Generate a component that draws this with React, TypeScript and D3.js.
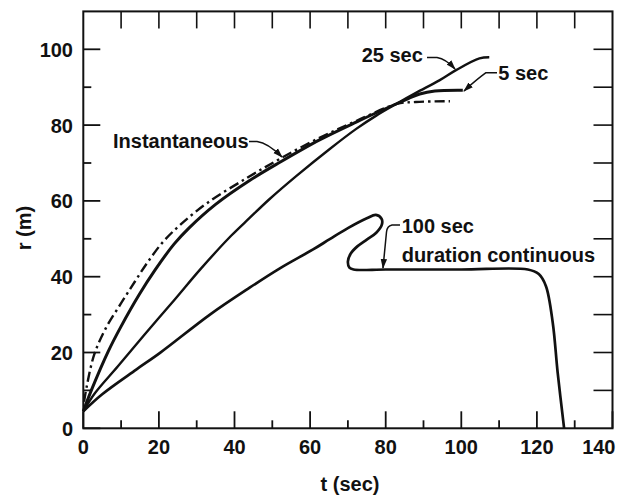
import React from "react";
import * as d3 from "d3";

const W = 619;
const H = 496;

const xMajorTicks = [0, 20, 40, 60, 80, 100, 120, 140];
const xMinorTicks = [10, 30, 50, 70, 90, 110, 130];
const xTopTicks = [10, 20, 30, 40, 50, 60, 70, 80, 90, 100, 110, 120, 130];
const yMajorTicks = [0, 20, 40, 60, 80, 100];
const yMinorTicks = [10, 30, 50, 70, 90];
const yRightTicks = [10, 20, 30, 40, 50, 60, 70, 80, 90, 100];

type P = [number, number];

const instantaneous: P[] = [
  [0.2, 7], [1, 11.5], [2.9, 19.5], [6, 26.5], [10, 33], [13.7, 38.8], [17, 43.8],
  [21.1, 49.2], [26, 54], [33, 59.6], [43.2, 66], [52, 71.1], [62, 76.4],
  [72, 81], [83, 85.6], [88, 86.1], [97, 86.3],
];

const fiveSec: P[] = [
  [0, 4.5], [2.2, 10.2], [6.6, 20.3], [10, 26.9], [14.8, 35.3], [19, 41.8], [24, 48.6],
  [28, 52.9], [35, 59.1], [44, 65.4], [52, 70.2], [62.5, 76.1], [72.2, 80.8],
  [83, 85.7], [86, 87], [89, 88.2], [93, 89], [100.4, 89.2],
];

const twentyFiveSec: P[] = [
  [0, 4.5], [3.1, 9.3], [9.1, 16.3], [16, 24.5], [24.2, 34], [31, 42], [39.1, 50.8],
  [44, 55.5], [49.3, 60.5], [56.4, 66.6], [65.2, 73.7], [72.2, 79], [77.5, 82.5],
  [83, 85.7], [88, 88.5], [94.2, 91.8], [98.6, 94.5], [104.8, 97.6], [107.4, 97.9],
];

const hundredSec: P[] = [
  [0, 4.5], [5, 9], [14, 15.5], [20.3, 19.9], [33.5, 30], [44, 37.1], [52, 42.2],
  [60.8, 47.2], [65.2, 49.9], [70, 52.8], [75, 55.4], [77.4, 56.3], [78.9, 55.3],
  [79, 53.8], [77.5, 51.6], [75, 49.8], [72.5, 48], [70.8, 46.2], [70, 44],
  [70.4, 42.4], [71.5, 41.9], [80, 41.9], [100, 41.9], [117.6, 41.9], [120.5, 40.7],
  [122.4, 37.5], [124.2, 27.8], [125.5, 14.6], [127.2, 0],
];

const FONT = "'Liberation Sans', Arial, Helvetica, sans-serif";
const INK = "#111";

export default function App() {
  const x = d3.scaleLinear().domain([0, 140]).range([83.3, 612.5]);
  const y = d3.scaleLinear().domain([0, 110]).range([428.3, 11.4]);
  const line = d3
    .line<P>()
    .x((d) => x(d[0]))
    .y((d) => y(d[1]))
    .curve(d3.curveCatmullRom.alpha(0.5));

  const x0 = x(0), x1 = x(140), y0 = y(0), y1 = y(110);
  const txt = { fontFamily: FONT, fontWeight: 700, fontSize: 20, fill: INK } as const;

  return (
    <svg
      width={W}
      height={H}
      viewBox={`0 0 ${W} ${H}`}
      style={{ position: "absolute", left: 0, top: 0, background: "#fff" }}
    >
      <defs>
        <marker id="arr" viewBox="0 -4 10 8" refX="9" refY="0" markerWidth="10" markerHeight="8"
          markerUnits="userSpaceOnUse" orient="auto">
          <path d="M0,-3.2L10,0L0,3.2Z" fill={INK} />
        </marker>
      </defs>

      {/* frame */}
      <rect x={x0} y={y1} width={x1 - x0} height={y0 - y1} fill="none" stroke={INK} strokeWidth={2} />

      {/* bottom ticks */}
      {xMajorTicks.map((t) => (
        <line key={"bx" + t} x1={x(t)} x2={x(t)} y1={y0} y2={y0 - 17} stroke={INK} strokeWidth={1.8} />
      ))}
      {xMinorTicks.map((t) => (
        <line key={"bm" + t} x1={x(t)} x2={x(t)} y1={y0} y2={y0 - 8} stroke={INK} strokeWidth={1.8} />
      ))}
      {/* top ticks */}
      {xTopTicks.map((t) => (
        <line key={"tx" + t} x1={x(t)} x2={x(t)} y1={y1} y2={y1 + 17} stroke={INK} strokeWidth={1.6} />
      ))}
      {/* left ticks */}
      {yMajorTicks.map((t) => (
        <line key={"ly" + t} x1={x0} x2={x0 + 17} y1={y(t)} y2={y(t)} stroke={INK} strokeWidth={1.8} />
      ))}
      {yMinorTicks.map((t) => (
        <line key={"lm" + t} x1={x0} x2={x0 + 8} y1={y(t)} y2={y(t)} stroke={INK} strokeWidth={1.8} />
      ))}
      {/* right ticks */}
      {yRightTicks.map((t) => (
        <line key={"ry" + t} x1={x1} x2={x1 - 19} y1={y(t)} y2={y(t)} stroke={INK} strokeWidth={1.6} />
      ))}

      {/* tick labels */}
      {xMajorTicks.map((t, i) => (
        <text key={"xl" + t} x={i === xMajorTicks.length - 1 ? 615.5 : x(t)} y={454}
          textAnchor={i === xMajorTicks.length - 1 ? "end" : "middle"} {...txt}>
          {t}
        </text>
      ))}
      {yMajorTicks.map((t) => (
        <text key={"yl" + t} x={73} y={y(t) + 7.5} textAnchor="end" {...txt}>
          {t}
        </text>
      ))}

      {/* axis titles */}
      <text x={350} y={491} textAnchor="middle" {...txt}>t (sec)</text>
      <text transform="translate(31,228) rotate(-90)" textAnchor="middle" {...txt}>r (m)</text>

      {/* curves */}
      <path d={line(instantaneous) ?? ""} fill="none" stroke={INK} strokeWidth={2.4}
        strokeDasharray="10,4,2.5,4" />
      <path d={line(fiveSec) ?? ""} fill="none" stroke={INK} strokeWidth={3} strokeLinejoin="round" />
      <path d={line(twentyFiveSec) ?? ""} fill="none" stroke={INK} strokeWidth={2.4} strokeLinejoin="round" />
      <path d={line(hundredSec) ?? ""} fill="none" stroke={INK} strokeWidth={2.7} strokeLinejoin="round" />

      {/* labels and leaders */}
      <text x={113} y={148} {...txt}>Instantaneous</text>
      <path d="M249,141.5 L257,141.5 Q268,143 282,157" fill="none" stroke={INK} strokeWidth={1.5} markerEnd="url(#arr)" />

      <text x={361.7} y={61.7} {...txt}>25 sec</text>
      <path d="M427,57.5 L437,57.5 Q446,59 455,69" fill="none" stroke={INK} strokeWidth={1.5} markerEnd="url(#arr)" />

      <text x={498.3} y={79.5} {...txt}>5 sec</text>
      <path d="M497,72.7 L486,72.7 Q476,80 464,91" fill="none" stroke={INK} strokeWidth={1.5} markerEnd="url(#arr)" />

      <text x={401.7} y={233.3} {...txt}>100 sec</text>
      <text x={401.7} y={261.7} {...txt}>duration continuous</text>
      <path d="M400,225 L392,225 Q387,226 386.5,232 L383,268" fill="none" stroke={INK} strokeWidth={1.5} markerEnd="url(#arr)" />
    </svg>
  );
}
